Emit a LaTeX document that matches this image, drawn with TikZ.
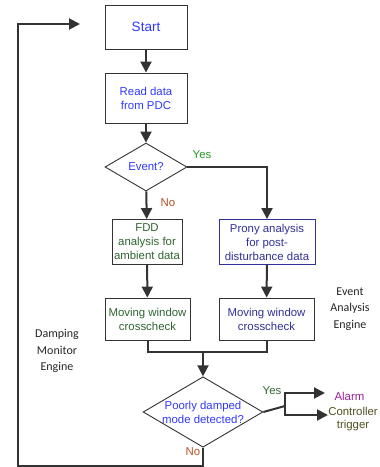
\documentclass[tikz,border=0pt]{standalone}
\usepackage{fontspec}
\setmainfont{Liberation Sans}
\newfontfamily\calfont{Carlito}
\usetikzlibrary{shapes.geometric,arrows.meta}

\definecolor{txtblue}{RGB}{48,56,255}
\definecolor{txtgreen}{RGB}{46,100,46}
\definecolor{txtnavy}{RGB}{48,48,150}
\definecolor{yesgreen}{RGB}{40,150,40}
\definecolor{nobrown}{RGB}{180,80,30}
\definecolor{alarmpink}{RGB}{150,30,150}
\definecolor{ctrlolive}{RGB}{80,80,30}
\definecolor{linegray}{RGB}{51,51,51}

\tikzset{
  box/.style={draw=linegray, line width=0.9pt, align=center, inner sep=2pt,
    font=\fontsize{11.4}{14}\selectfont},
  decision/.style={draw=linegray, line width=0.9pt, shape=diamond, aspect=1.7,
    inner sep=0pt, align=center, font=\fontsize{11.4}{14}\selectfont},
  flow/.style={draw=linegray, line width=2pt},
  arr/.style={flow, -{Triangle[length=11pt,width=11pt]}},
  tag/.style={font=\fontsize{11.4}{13}\selectfont},
  engine/.style={font=\calfont\fontsize{12}{16.5}\selectfont, align=center, text=black!85}
}

\begin{document}
\begin{tikzpicture}[x=1pt,y=-1pt]
\useasboundingbox (0,0) rectangle (380,467);

% main column
\node[box, minimum width=82pt, minimum height=44pt, text=txtblue,
  font=\fontsize{13.5}{15}\selectfont] (start) at (146,27) {Start};
\node[box, minimum width=82pt, minimum height=50pt, text=txtblue] (read) at (146,98) {Read data\\from PDC};
\node[decision, minimum width=82pt, minimum height=48pt, text=txtblue] (event) at (146,167) {Event?};

% the two analysis branches
\node[box, minimum width=70pt, minimum height=45pt, text=txtgreen] (fdd) at (147,242) {FDD\\analysis for\\ambient data};
\node[box, draw=txtnavy, minimum width=96pt, minimum height=45pt, text=txtnavy] (prony) at (267,242) {Prony analysis\\for post-\\disturbance data};
\node[box, minimum width=85pt, minimum height=42pt, text=txtgreen] (mwl) at (147.5,319) {Moving window\\crosscheck};
\node[box, minimum width=95pt, minimum height=42pt, text=txtnavy] (mwr) at (266.5,319) {Moving window\\crosscheck};

\node[decision, minimum width=118pt, minimum height=70pt, text=txtblue] (poor) at (203,412) {Poorly damped\\mode detected?};

% outputs
\node[tag, text=alarmpink, anchor=west] (alarm) at (331,396) {Alarm};
\node[tag, text=ctrlolive, align=center] (ctrl) at (353,419) {Controller\\trigger};

% branch labels
\node[tag, text=yesgreen] (yes1) at (202,155) {Yes};
\node[tag, text=nobrown] (no1) at (168,203) {No};
\node[tag, text=txtgreen] (yes2) at (272,391) {Yes};
\node[tag, text=nobrown] (no2) at (193,452) {No};

% engine labels
\node[engine] (dme) at (57,351) {Damping\\Monitor\\Engine};
\node[engine] (eae) at (350,309) {Event\\Analysis\\Engine};

% helper points
\coordinate (join) at (203,352);
\coordinate (fork) at (285,406);
\coordinate (tipA) at (325,393);
\coordinate (tipB) at (328,415);
\coordinate (low) at (18,466);
\coordinate (back) at (80,24);

% connectors
\draw[arr] (start) -- (read);
\draw[arr] (read) -- (event);
\draw[arr] (event) -- (fdd);
\draw[arr] (event.east) -| (prony.north);
\draw[arr] (fdd) -- (mwl);
\draw[arr] (prony) -- (mwr);
\draw[flow] (mwl.south) |- (join) -| (mwr.south);
\draw[arr] (join) -- (poor.north);
\draw[flow] (poor.east) -- (fork);
\draw[arr] (fork) |- (tipA);
\draw[arr] (fork) |- (tipB);
\draw[arr] (poor.south) |- (low) |- (back);
\end{tikzpicture}
\end{document}
